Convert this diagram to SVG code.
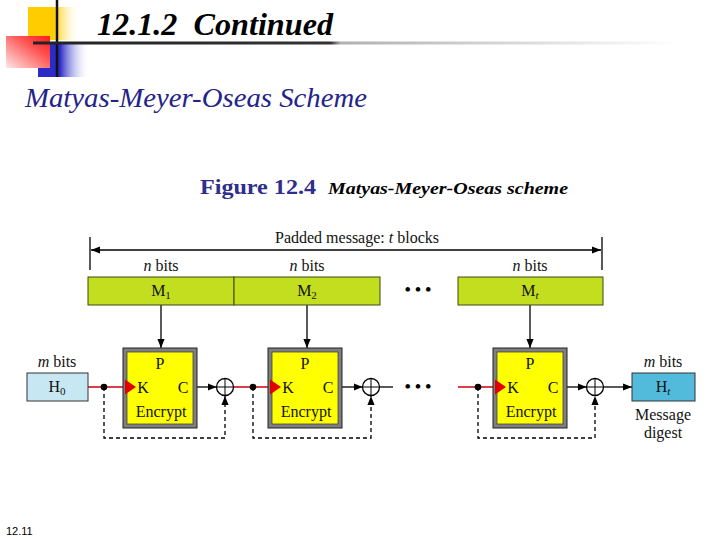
<svg xmlns="http://www.w3.org/2000/svg" width="720" height="540" viewBox="0 0 720 540">
<defs>
<linearGradient id="gY" x1="0" y1="0" x2="1" y2="0"><stop offset="0" stop-color="#ffcc00"/><stop offset="0.5" stop-color="#ffcc00"/><stop offset="1" stop-color="#ffffff" stop-opacity="0"/></linearGradient>
<linearGradient id="gB" x1="0" y1="0" x2="1" y2="0"><stop offset="0" stop-color="#2b2bc8"/><stop offset="0.42" stop-color="#2b2bc8"/><stop offset="1" stop-color="#ffffff" stop-opacity="0"/></linearGradient>
<linearGradient id="gR" x1="1" y1="0" x2="0" y2="1"><stop offset="0" stop-color="#ff1a1a"/><stop offset="0.35" stop-color="#ff5050"/><stop offset="1" stop-color="#ffe6e6"/></linearGradient>
<linearGradient id="gL" x1="33" y1="0" x2="680" y2="0" gradientUnits="userSpaceOnUse"><stop offset="0" stop-color="#222"/><stop offset="0.46" stop-color="#333"/><stop offset="0.475" stop-color="#b0b0b0"/><stop offset="1" stop-color="#ffffff"/></linearGradient>
<marker id="ah" viewBox="0 0 10 10" refX="10" refY="5" markerWidth="9" markerHeight="9" markerUnits="userSpaceOnUse" orient="auto"><path d="M0,1 L10,5 L0,9 z" fill="#000"/></marker>
</defs>
<style>
.serif{font-family:"Liberation Serif","Times New Roman",serif}
.t{font-family:"Liberation Serif","Times New Roman",serif;font-size:16px;fill:#111;text-anchor:middle}
.m{fill:#c2de1e;stroke:#3d4a10;stroke-width:1}
.frame{fill:#7f7f7f;stroke:#222;stroke-width:1}
.core{fill:#ffff00;stroke:#444;stroke-width:0.8}
.red{stroke:#c8000a;stroke-width:1.3;fill:none}
.blk{stroke:#000;stroke-width:1.3;fill:none}
.dash{stroke:#000;stroke-width:1.3;fill:none;stroke-dasharray:4 3}
.dot{fill:#000}
.tri{fill:#e00000}
.xor{fill:#fff;stroke:#000;stroke-width:1.3}
.dots{font-family:"Liberation Serif",serif;font-size:17px;font-weight:bold;fill:#000;text-anchor:middle}
.pg{font-family:"Liberation Sans",Arial,sans-serif;font-size:11px;fill:#000}
</style>
<rect width="720" height="540" fill="#fff"/>
<g id="decoration">
<rect x="28" y="7" width="52" height="33" fill="url(#gY)"/>
<rect x="38" y="43" width="52" height="34" fill="url(#gB)"/>
<rect x="6" y="36" width="44" height="32" fill="url(#gR)"/>
<line x1="57" y1="0" x2="57" y2="77" stroke="#111" stroke-width="2.5"/>
<line x1="33" y1="43" x2="680" y2="43" stroke="url(#gL)" stroke-width="3"/>
</g>
<text class="serif" x="97" y="35" font-size="31" font-weight="bold" font-style="italic" fill="#000" xml:space="preserve" textLength="236" lengthAdjust="spacingAndGlyphs">12.1.2  Continued</text>
<text class="serif" x="25" y="107" font-size="27" font-style="italic" fill="#23238a" textLength="342" lengthAdjust="spacingAndGlyphs">Matyas-Meyer-Oseas Scheme</text>
<text class="serif" x="200" y="194" font-size="20" font-weight="bold" fill="#2e2e8c" textLength="116" lengthAdjust="spacingAndGlyphs">Figure 12.4</text>
<text class="serif" x="328" y="194" font-size="17" font-weight="bold" font-style="italic" fill="#000" textLength="240" lengthAdjust="spacingAndGlyphs">Matyas-Meyer-Oseas scheme</text>
<text class="pg" x="6" y="535">12.11</text>

<g id="connectors">
<line x1="90" y1="237" x2="90" y2="270" class="blk"/>
<line x1="602" y1="237" x2="602" y2="270" class="blk"/>
<line x1="300" y1="250" x2="91" y2="250" class="blk" stroke-width="0.8" marker-end="url(#ah)"/>
<line x1="300" y1="250" x2="601" y2="250" class="blk" stroke-width="0.8" marker-end="url(#ah)"/>
<line x1="161" y1="305" x2="161" y2="348" class="blk" marker-end="url(#ah)"/>
<line x1="307" y1="305" x2="307" y2="348" class="blk" marker-end="url(#ah)"/>
<line x1="530" y1="305" x2="530" y2="348" class="blk" marker-end="url(#ah)"/>
<line x1="88" y1="387" x2="125" y2="387" class="red"/>
<line x1="233.5" y1="387" x2="270" y2="387" class="red"/>
<line x1="458" y1="387" x2="495" y2="387" class="red"/>
<line x1="197" y1="387" x2="216.5" y2="387" class="blk" marker-end="url(#ah)"/>
<line x1="342" y1="387" x2="362.5" y2="387" class="blk" marker-end="url(#ah)"/>
<line x1="567" y1="387" x2="586.5" y2="387" class="blk" marker-end="url(#ah)"/>
<line x1="379.5" y1="387" x2="393" y2="387" class="blk"/>
<line x1="603.5" y1="387" x2="632" y2="387" class="blk" marker-end="url(#ah)"/>
<path d="M104 387 V438 H225 V396" class="dash" marker-end="url(#ah)"/>
<path d="M253 387 V438 H371 V396" class="dash" marker-end="url(#ah)"/>
<path d="M478 387 V438 H595 V396" class="dash" marker-end="url(#ah)"/>
<circle cx="104" cy="387" r="3.3" class="dot"/>
<circle cx="253" cy="387" r="3.3" class="dot"/>
<circle cx="478" cy="387" r="3.3" class="dot"/>
</g>
<text class="t" x="357" y="243">Padded message: <tspan font-style="italic">t</tspan> blocks</text>

<g id="M1">
<text class="t" x="161" y="271"><tspan font-style="italic">n</tspan> bits</text>
<rect class="m" x="88" y="277" width="146" height="28"/>
<text class="t" x="161" y="296">M<tspan font-size="11" dy="3">1</tspan></text>
</g>
<g id="M2">
<text class="t" x="307" y="271"><tspan font-style="italic">n</tspan> bits</text>
<rect class="m" x="234" y="277" width="146" height="28"/>
<text class="t" x="307" y="296">M<tspan font-size="11" dy="3">2</tspan></text>
</g>
<text class="dots" x="418" y="295">• • •</text>
<g id="Mt">
<text class="t" x="530" y="271"><tspan font-style="italic">n</tspan> bits</text>
<rect class="m" x="458" y="277" width="145" height="28"/>
<text class="t" x="530" y="296">M<tspan font-size="11" dy="3" font-style="italic">t</tspan></text>
</g>

<g id="H0">
<text class="t" x="57" y="367"><tspan font-style="italic">m</tspan> bits</text>
<rect x="27" y="373" width="61" height="28" fill="#c7e8f2" stroke="#333" stroke-width="1"/>
<text class="t" x="57" y="392">H<tspan font-size="11" dy="3">0</tspan></text>
</g>

<g id="E1">
<rect class="frame" x="123" y="348" width="74" height="80"/>
<rect class="core" x="127" y="352" width="66" height="72"/>
<polygon class="tri" points="125,379.5 136,387 125,394.5"/>
<text class="t" x="160" y="369">P</text>
<text class="t" x="143" y="393">K</text>
<text class="t" x="183" y="393">C</text>
<text class="t" x="161" y="417">Encrypt</text>
</g>
<g id="X1"><circle class="xor" cx="225" cy="387" r="8.5"/><path d="M216.5 387 H233.5 M225 378.5 V395.5" stroke="#000" stroke-width="1"/></g>

<g id="E2">
<rect class="frame" x="268" y="348" width="74" height="80"/>
<rect class="core" x="272" y="352" width="66" height="72"/>
<polygon class="tri" points="270,379.5 281,387 270,394.5"/>
<text class="t" x="305" y="369">P</text>
<text class="t" x="288" y="393">K</text>
<text class="t" x="328" y="393">C</text>
<text class="t" x="306" y="417">Encrypt</text>
</g>
<g id="X2"><circle class="xor" cx="371" cy="387" r="8.5"/><path d="M362.5 387 H379.5 M371 378.5 V395.5" stroke="#000" stroke-width="1"/></g>

<text class="dots" x="418" y="392">• • •</text>

<g id="E3">
<rect class="frame" x="493" y="348" width="74" height="80"/>
<rect class="core" x="497" y="352" width="66" height="72"/>
<polygon class="tri" points="495,379.5 506,387 495,394.5"/>
<text class="t" x="530" y="369">P</text>
<text class="t" x="513" y="393">K</text>
<text class="t" x="553" y="393">C</text>
<text class="t" x="531" y="417">Encrypt</text>
</g>
<g id="X3"><circle class="xor" cx="595" cy="387" r="8.5"/><path d="M586.5 387 H603.5 M595 378.5 V395.5" stroke="#000" stroke-width="1"/></g>

<g id="Ht">
<text class="t" x="663" y="367"><tspan font-style="italic">m</tspan> bits</text>
<rect x="632" y="373" width="63" height="28" fill="#52bada" stroke="#333" stroke-width="1"/>
<text class="t" x="663" y="392">H<tspan font-size="11" dy="3" font-style="italic">t</tspan></text>
<text class="t" x="663" y="420">Message</text>
<text class="t" x="663" y="438">digest</text>
</g>
</svg>
